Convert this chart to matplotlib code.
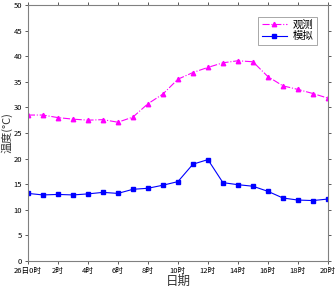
import matplotlib
matplotlib.use("Agg")
import matplotlib.pyplot as plt

plt.rcParams["font.family"] = ["Noto Sans CJK SC", "DejaVu Sans"]

hours = list(range(21))
observed = [28.5, 28.5, 28.0, 27.7, 27.5, 27.6, 27.1, 28.1, 30.7, 32.6, 35.5,
            36.8, 37.8, 38.7, 39.1, 38.9, 36.0, 34.2, 33.5, 32.7, 31.8]
simulated = [13.2, 12.9, 13.0, 12.9, 13.1, 13.4, 13.2, 14.0, 14.2, 14.8, 15.5,
             18.9, 19.8, 15.3, 14.9, 14.6, 13.6, 12.3, 11.9, 11.8, 12.1]
xtick_pos = list(range(0, 21, 2))
xtick_labels = ["26日0时", "2时", "4时", "6时", "8时", "10时", "12时",
                "14时", "16时", "18时", "20时"]

fig = plt.figure(figsize=(3.36, 2.90), dpi=100)
ax = fig.add_axes([0.083, 0.10, 0.893, 0.883])

ax.plot(hours, observed, color="#ff00ff", linestyle="-.", linewidth=0.8,
        marker="^", markersize=3.2, label="观测")
ax.plot(hours, simulated, color="#0000ff", linestyle="-", linewidth=0.8,
        marker="s", markersize=2.8, label="模拟")

ax.set_xlim(0, 20)
ax.set_ylim(0, 50)
ax.set_xticks(xtick_pos)
ax.set_xticklabels(xtick_labels)
ax.set_yticks(range(0, 51, 5))

for s in ax.spines.values():
    s.set_color("#808080")
    s.set_linewidth(0.8)
ax.tick_params(direction="out", length=2.5, width=0.6, color="#404040",
               labelsize=5.5, pad=1.5, top=True, right=True)

ax.set_xlabel("日期", fontsize=9, labelpad=0, color="#333333")
ax.set_ylabel("温度(°C)", fontsize=8, labelpad=1, color="#333333")

leg = ax.legend(loc="upper right", fontsize=7.5, frameon=True, fancybox=False,
                borderpad=0.3, handlelength=2.4, handletextpad=0.6,
                labelspacing=0.15, bbox_to_anchor=(0.98, 0.975))
leg.get_frame().set_edgecolor("#808080")
leg.get_frame().set_linewidth(0.6)

fig.savefig("out.png", dpi=100)
